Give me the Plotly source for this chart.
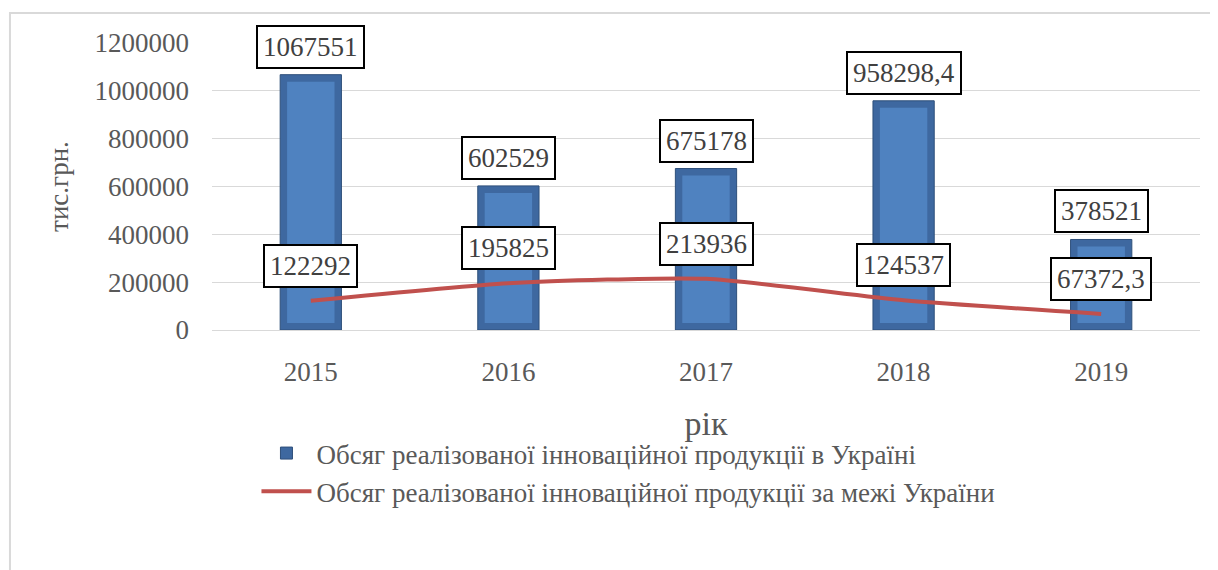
import plotly.graph_objects as go

years = [2015, 2016, 2017, 2018, 2019]
domestic = [1067551, 602529, 675178, 958298.4, 378521]
abroad = [122292, 195825, 213936, 124537, 67372.3]
domestic_labels = ["1067551", "602529", "675178", "958298,4", "378521"]
abroad_labels = ["122292", "195825", "213936", "124537", "67372,3"]
y_ticks = [0, 200000, 400000, 600000, 800000, 1000000, 1200000]

name_bar = "Обсяг реалізованої інноваційної продукції в Україні"
name_line = "Обсяг реалізованої інноваційної продукції за межі України"

FONT = "Liberation Serif, Times New Roman, serif"
GREY = "#595959"
FS = 27

Y_MAX = 1200000
PLOT_H = 287  # plot height in px
bevel = 7 * Y_MAX / PLOT_H  # bevel inset expressed in axis units

fig = go.Figure()
# outer (bevel edge) bar
fig.add_trace(go.Bar(
    x=years, y=domestic, name=name_bar,
    marker=dict(color="#3E68A0", line=dict(color="#2E4F7A", width=1)),
    width=0.31,
))
# inner (face) bar, same data, inset for bevel look
fig.add_trace(go.Bar(
    x=years, y=[v - 2 * bevel for v in domestic], base=[bevel] * len(domestic),
    marker=dict(color="#4F82C0", line=dict(width=0)),
    width=0.24, showlegend=False, hoverinfo="skip",
))
fig.add_trace(go.Scatter(
    x=years, y=abroad, name=name_line, mode="lines",
    line=dict(color="#C0504D", width=4, shape="spline", smoothing=0.6),
))

annotations = []
for x, v, t in zip(years, domestic, domestic_labels):
    annotations.append(dict(
        x=x, y=v, xref="x", yref="y", text=t, showarrow=False,
        yanchor="bottom", yshift=6,
        font=dict(family=FONT, size=FS, color="#404040"),
        bgcolor="white", bordercolor="black", borderwidth=2, borderpad=5,
    ))
for x, v, t in zip(years, abroad, abroad_labels):
    annotations.append(dict(
        x=x, y=v, xref="x", yref="y", text=t, showarrow=False,
        yanchor="bottom", yshift=13,
        font=dict(family=FONT, size=FS, color="#404040"),
        bgcolor="white", bordercolor="black", borderwidth=2, borderpad=5,
    ))

fig.update_layout(
    width=1218, height=570,
    margin=dict(l=204, r=26, t=35, b=248),
    paper_bgcolor="white", plot_bgcolor="white",
    font=dict(family=FONT, size=FS, color=GREY),
    barmode="overlay",
    showlegend=True,
    legend=dict(
        x=0.045, y=-0.345, xanchor="left", yanchor="top",
        font=dict(family=FONT, size=FS, color=GREY),
        bgcolor="rgba(0,0,0,0)", tracegroupgap=0, itemwidth=50,
    ),
    annotations=annotations,
    shapes=[dict(
        type="rect", xref="paper", yref="paper",
        x0=-0.2045, x1=1.1, y0=-1.0, y1=1.1045,
        line=dict(color="#D9D9D9", width=2), fillcolor="rgba(0,0,0,0)",
        layer="below",
    )],
)
fig.update_xaxes(
    type="linear", range=[2014.5, 2019.5], tickvals=years,
    ticktext=[str(y) for y in years],
    showgrid=False, showline=False, zeroline=False, ticks="", ticklabelstandoff=23,
    tickfont=dict(family=FONT, size=FS, color=GREY),
    title=dict(text="рік", font=dict(family=FONT, size=34, color=GREY), standoff=25),
)
fig.update_yaxes(
    range=[0, Y_MAX], tickvals=y_ticks, ticktext=[str(v) for v in y_ticks],
    showgrid=True, gridcolor="#D9D9D9", gridwidth=1,
    zeroline=True, zerolinecolor="#D9D9D9", zerolinewidth=1,
    showline=False, ticks="", ticklabelstandoff=22,
    tickfont=dict(family=FONT, size=FS, color=GREY),
    title=dict(text="тис.грн.", font=dict(family=FONT, size=FS, color=GREY), standoff=18),
)

fig.write_html("out.html")
